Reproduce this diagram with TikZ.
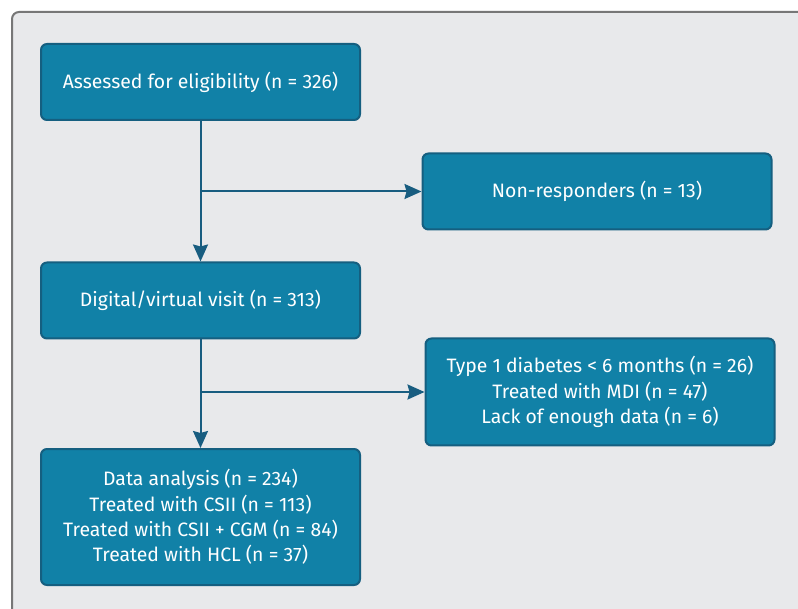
\documentclass[tikz,border=0pt]{standalone}
\usepackage{fontspec}
\setmainfont{Fira Sans}
\usetikzlibrary{arrows.meta}
\definecolor{boxfill}{HTML}{1181A7}
\definecolor{boxline}{HTML}{155F80}
\definecolor{arrowc}{HTML}{185D80}
\definecolor{panel}{HTML}{E8E9EB}
\definecolor{panelline}{HTML}{777777}
\begin{document}
\begin{tikzpicture}[x=1pt,y=-1pt,
  flowbox/.style={draw=boxline, line width=2pt, fill=boxfill, rounded corners=6pt,
    text=white, align=center, font=\fontsize{19.4}{25.3}\selectfont, inner sep=0pt},
  conn/.style={draw=arrowc, line width=2pt, -{Stealth[length=17pt,width=15pt,inset=2pt]}}]
\useasboundingbox (0,0) rectangle (798,609);
\clip (0,0) rectangle (798,609);
\fill[white] (0,0) rectangle (798,609);
\draw[panelline, line width=2pt, fill=panel, rounded corners=7pt] (12,12) rectangle (830,640);
\node[flowbox, minimum width=319pt, minimum height=76pt] (a) at (200.5,82) {Assessed for eligibility (n = 326)};
\node[flowbox, minimum width=349pt, minimum height=76pt] (nr) at (597,191.5) {Non-responders (n = 13)};
\node[flowbox, minimum width=319pt, minimum height=76pt] (b) at (200.5,300.5) {Digital/virtual visit (n = 313)};
\node[flowbox, minimum width=349pt, minimum height=107pt] (ex) at (600,392) {Type 1 diabetes < 6 months (n = 26)\\Treated with MDI (n = 47)\\Lack of enough data (n = 6)};
\node[flowbox, minimum width=319pt, minimum height=136pt] (c) at (200.5,517) {Data analysis (n = 234)\\Treated with CSII (n = 113)\\Treated with CSII + CGM (n = 84)\\Treated with HCL (n = 37)};
\coordinate (j1) at (a.south |- nr.west);
\coordinate (j2) at (b.south |- ex.west);
\draw[conn] (a.south) -- (b.north);
\draw[conn] (j1) -- (nr.west);
\draw[conn] (b.south) -- (c.north);
\draw[conn] (j2) -- (ex.west);
\end{tikzpicture}
\end{document}
